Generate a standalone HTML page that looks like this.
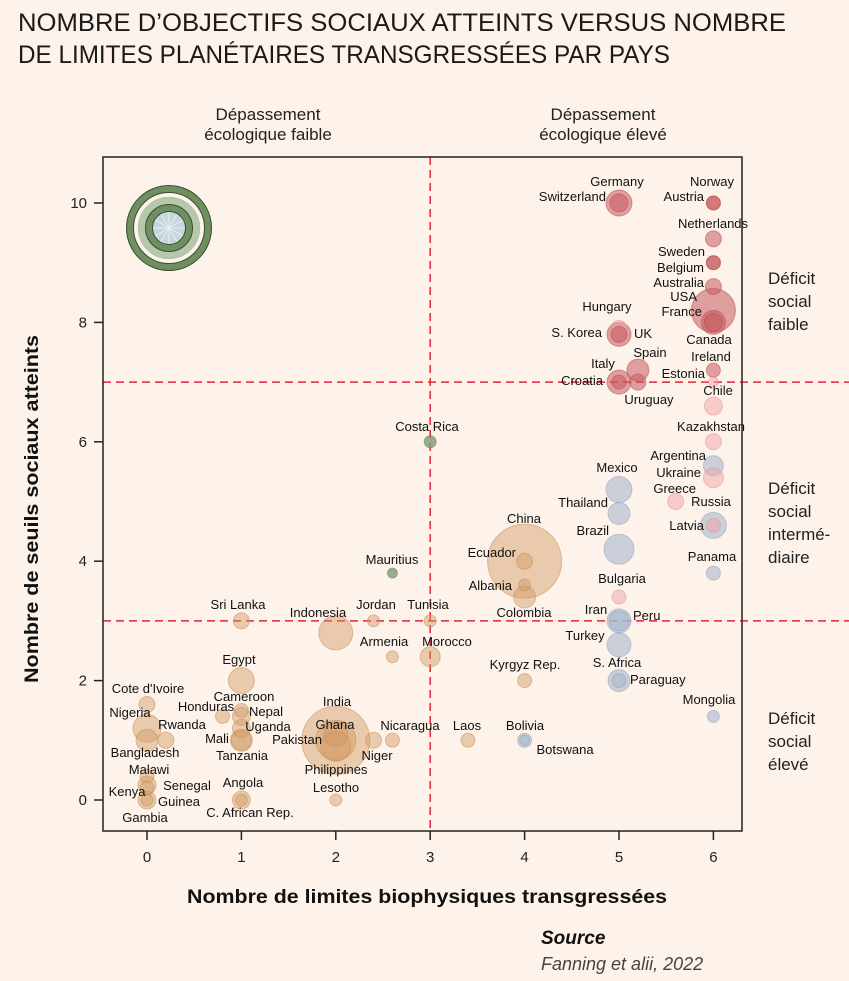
<!DOCTYPE html>
<html><head><meta charset="utf-8"><style>
body{margin:0;background:#fdf3ea}
svg{display:block;font-family:"Liberation Sans",sans-serif}
</style></head><body>
<svg id="chart" width="849" height="981" viewBox="0 0 849 981">
<rect width="849" height="981" fill="#fdf3ea"/>
<g fill="#1a1a1a" font-size="25">
<text x="18" y="31" textLength="768" lengthAdjust="spacingAndGlyphs">NOMBRE D’OBJECTIFS SOCIAUX ATTEINTS VERSUS NOMBRE</text>
<text x="18" y="63" textLength="652" lengthAdjust="spacingAndGlyphs">DE LIMITES PLANÉTAIRES TRANSGRESSÉES PAR PAYS</text>
</g>
<g fill="#222" font-size="17" text-anchor="middle">
<text x="268" y="120">Dépassement</text><text x="268" y="140">écologique faible</text>
<text x="603" y="120">Dépassement</text><text x="603" y="140">écologique élevé</text>
</g>
<g fill="#222" font-size="17">
<text x="768" y="284">Déficit</text><text x="768" y="307">social</text><text x="768" y="330">faible</text>
<text x="768" y="494">Déficit</text><text x="768" y="517">social</text><text x="768" y="540">intermé-</text><text x="768" y="563">diaire</text>
<text x="768" y="724">Déficit</text><text x="768" y="747">social</text><text x="768" y="770">élevé</text>
</g>
<g id="plot"></g>
<text x="427" y="903" text-anchor="middle" font-size="19" font-weight="bold" fill="#111" textLength="480" lengthAdjust="spacingAndGlyphs">Nombre de limites biophysiques transgressées</text>
<text transform="translate(38,509) rotate(-90)" text-anchor="middle" font-size="19" font-weight="bold" fill="#111" textLength="348" lengthAdjust="spacingAndGlyphs">Nombre de seuils sociaux atteints</text>
<g font-style="italic">
<text x="541" y="944" font-size="19" font-weight="bold" fill="#111">Source</text>
<text x="541" y="970" font-size="18" fill="#444">Fanning et alii, 2022</text>
</g>
</svg>
<script>
const names=["Germany","Switzerland","Norway","Austria","Netherlands","Sweden","Belgium","Australia","USA","France","Canada","Hungary","S. Korea","UK","Ireland","Estonia","Spain","Italy","Croatia","Uruguay","Chile","Kazakhstan","Argentina","Ukraine","Greece","Russia","Latvia","Panama","Mexico","Thailand","Brazil","Bulgaria","Iran","Peru","Turkey","S. Africa","Paraguay","Mongolia","Bolivia","Botswana","China","Ecuador","Albania","Colombia","Kyrgyz Rep.","Laos","Costa Rica","Mauritius","Tunisia","Morocco","Jordan","Armenia","Indonesia","Sri Lanka","Egypt","Cameroon","Honduras","Nepal","Uganda","Mali","Tanzania","India","Ghana","Pakistan","Philippines","Nicaragua","Niger","Lesotho","Angola","C. African Rep.","Cote d'Ivoire","Nigeria","Rwanda","Bangladesh","Malawi","Kenya","Senegal","Guinea","Gambia"];
const boundaries=[5,5,6,6,6,6,6,6,6,6,6,5,5,5,6,6,5.2,5,5,5.2,6,6,6,6,5.6,6,6,6,5,5,5,5,5,5,5,5,5,6,4,4,4,4,4,4,4,3.4,3,2.6,3,3,2.4,2.6,2,1,1,1,0.8,1,1,1,1,2,2,2,2,2.4,2.6,2,1,1,0,0,0.2,0,0,0,0,0,0];
const social=[10,10,10,10,9.4,9,9,8.6,8.2,8,8,7.9,7.8,7.8,7.2,7,7.2,7,7,7,6.6,6,5.6,5.4,5,4.6,4.6,3.8,5.2,4.8,4.2,3.4,3,3,2.6,2,2,1.4,1,1,4,4,3.6,3.4,2,1,6,3.8,3,2.4,3,2.4,2.8,3,2,1.4,1.4,1.5,1.2,1,1,1,1.1,1,0.9,1,1,0,0,0,1.6,1.2,1,1,0.4,0.25,0.2,0,0];
const population=[13,9,7,7,8,7,7,8,22,12,9,8,12,8,7,5,11,12,7,8,9,8,10,10,8,13,7,7,13,11,15,7,12,10,12,11,7,6,7,5,37,8,6,11,7,7,6,5,6,10,6,6,17,8,13,9,7,7,9,10,11,34,12,20,15,8,7,6,9,6,8,14,8,11,7,9,7,9,6];
const group=["r","r","r","r","r","r","r","r","r","r","r","p","r","r","r","p","r","r","r","r","p","p","b","p","p","b","p","b","b","b","b","p","b","b","b","b","b","b","b","b","t","t","t","t","t","t","g","g","t","t","t","t","t","t","t","t","t","t","t","t","t","t","t","t","t","t","t","t","t","t","t","t","t","t","t","t","t","t","t"];
const labelPos=[[617,186,"middle"],[606,201,"end"],[712,186,"middle"],[704,201,"end"],[713,228,"middle"],[705,256,"end"],[704,272,"end"],[704,287,"end"],[697,301,"end"],[702,316,"end"],[709,344,"middle"],[607,311,"middle"],[602,337,"end"],[634,338,"start"],[711,361,"middle"],[705,378,"end"],[650,357,"middle"],[603,368,"middle"],[603,385,"end"],[649,404,"middle"],[718,395,"middle"],[711,431,"middle"],[706,460,"end"],[701,477,"end"],[696,493,"end"],[711,506,"middle"],[704,530,"end"],[712,561,"middle"],[617,472,"middle"],[608,507,"end"],[609,535,"end"],[622,583,"middle"],[596,614,"middle"],[633,620,"start"],[585,640,"middle"],[617,667,"middle"],[630,684,"start"],[709,704,"middle"],[525,730,"middle"],[565,754,"middle"],[524,523,"middle"],[516,557,"end"],[512,590,"end"],[524,617,"middle"],[525,669,"middle"],[467,730,"middle"],[427,431,"middle"],[392,564,"middle"],[428,609,"middle"],[447,646,"middle"],[376,609,"middle"],[384,646,"middle"],[318,617,"middle"],[238,609,"middle"],[239,664,"middle"],[244,701,"middle"],[206,711,"middle"],[266,716,"middle"],[268,731,"middle"],[217,743,"middle"],[242,760,"middle"],[337,706,"middle"],[335,729,"middle"],[297,744,"middle"],[336,774,"middle"],[410,730,"middle"],[377,760,"middle"],[336,792,"middle"],[243,787,"middle"],[250,817,"middle"],[148,693,"middle"],[130,717,"middle"],[182,729,"middle"],[145,757,"middle"],[149,774,"middle"],[127,796,"middle"],[187,790,"middle"],[179,806,"middle"],[145,822,"middle"]];
const xTicks=[0,1,2,3,4,5,6];
const yTicks=[0,2,4,6,8,10];
const NS="http://www.w3.org/2000/svg";
const X=v=>147+94.4*v, Y=v=>800-59.7*v;
const L=103,R=742,T=157,B=831;
const plot=document.getElementById('plot');
function mk(tag,attrs,parent){const e=document.createElementNS(NS,tag);for(const k in attrs)e.setAttribute(k,attrs[k]);(parent||plot).appendChild(e);return e;}
const fills={r:["#c65a5f",0.55],p:["#f0a4a6",0.5],b:["#a9b8cd",0.6],t:["#d09a62",0.45],g:["#7d9a6e",0.8]};
const strokes={r:"#b84a50",p:"#e39093",b:"#8fa1ba",t:"#c48c55",g:"#5f7d52"};
// dashed lines
let d1=mk('line',{x1:X(3),x2:X(3),y1:T,y2:B,stroke:"#e0243a","stroke-width":1.5,"stroke-dasharray":"8,5"});

[7,3].forEach(v=>{let l=mk('line',{x1:L,x2:849,y1:Y(v),y2:Y(v),stroke:"#e0243a","stroke-width":1.5,"stroke-dasharray":"8,5"});

});
// bubbles
const order=names.map((n,i)=>i).sort((a,b)=>population[b]-population[a]);
order.forEach(i=>{const g=group[i];
const c=mk('circle',{cx:X(boundaries[i]),cy:Y(social[i]),r:population[i],fill:fills[g][0],"fill-opacity":fills[g][1],stroke:strokes[g],"stroke-opacity":0.5,"stroke-width":1});

});
names.forEach((n,i)=>{const p=labelPos[i];
const t=mk('text',{x:p[0],y:p[1],"text-anchor":p[2],"font-size":13,fill:"#111"});t.textContent=n;

});
// frame
const f=mk('rect',{x:L,y:T,width:R-L,height:B-T,fill:"none",stroke:"#222","stroke-width":1.5});

xTicks.forEach(v=>{mk('line',{x1:X(v),x2:X(v),y1:B,y2:B+9,stroke:"#222","stroke-width":1.5});
const t=mk('text',{x:X(v),y:B+31,"text-anchor":"middle","font-size":15,fill:"#222"});t.textContent=v;
});
yTicks.forEach(v=>{mk('line',{x1:L-9,x2:L,y1:Y(v),y2:Y(v),stroke:"#222","stroke-width":1.5});
const t=mk('text',{x:L-16,y:Y(v)+5,"text-anchor":"end","font-size":15,fill:"#222"});t.textContent=v;
});
// icon
const ic=mk('g',{});
const cx=169,cy=228;
mk('circle',{cx,cy,r:31,fill:"#b6c8ab",stroke:"#a6b99b","stroke-width":0.5},ic);
mk('circle',{cx,cy,r:39,fill:"none",stroke:"#355030","stroke-width":8},ic);
mk('circle',{cx,cy,r:39,fill:"none",stroke:"#6f8f62","stroke-width":6},ic);
mk('circle',{cx,cy,r:20,fill:"#c7d6dc",stroke:"#355030","stroke-width":8},ic);
mk('circle',{cx,cy,r:20,fill:"none",stroke:"#6f8f62","stroke-width":6},ic);
for(let k=0;k<12;k++){const a=k*Math.PI/6;mk('line',{x1:cx,y1:cy,x2:cx+16*Math.cos(a),y2:cy+16*Math.sin(a),stroke:"#eef3f4","stroke-width":0.8},ic);}
</script>
</body></html>
